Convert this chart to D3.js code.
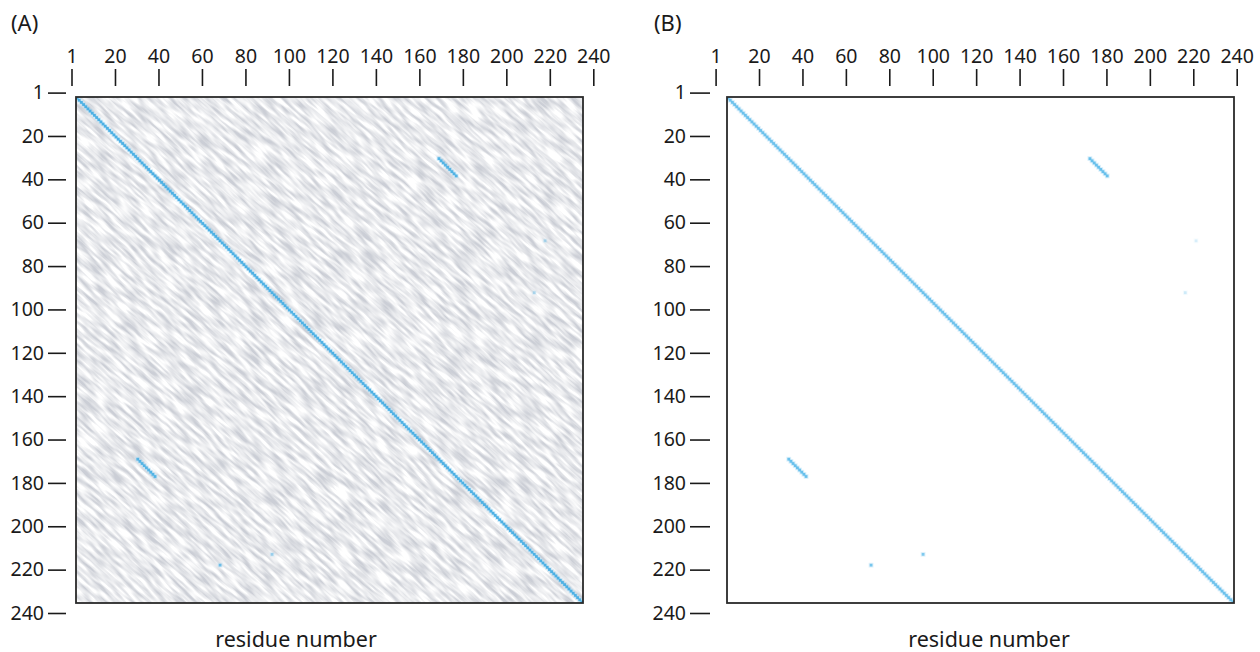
<!DOCTYPE html>
<html>
<head>
<meta charset="utf-8">
<script src="https://cdn.jsdelivr.net/npm/d3@7"></script>
<style>
  body { margin: 0; background: #fff; }
  svg { display: block; font-family: "Noto Sans", sans-serif; }
</style>
</head>
<body>
<svg id="fig" width="1260" height="652"></svg>
<script>
// tick labels used on both axes of both panels
const tickLabels = ['1', '20', '40', '60', '80', '100', '120', '140', '160', '180', '200', '220', '240'];
const seqLength = 234; // residues covered by each plot box

// matching runs: start residue (x), start residue (y), run length
const runX = [1, 168, 29, 67, 91, 217, 212];
const runY = [1, 29, 168, 217, 212, 67, 91];
const runLen = [234, 9, 9, 1, 1, 1, 1];
// how strong each run shows up in the unfiltered (A) and filtered (B) plot
const strengthA = [0.9, 0.85, 0.85, 0.7, 0.45, 0.35, 0.35];
const strengthB = [0.85, 0.9, 0.9, 0.8, 0.75, 0.2, 0.25];

const panels = [
    { label: '(A)', labelX: 11, axisX: [71.5, 593.3], box: [76, 583], yTick: [48, 66], strength: strengthA, noisy: true, titleX: 296, blue: '#40abe2' },
    { label: '(B)', labelX: 654, axisX: [715.6, 1236.7], box: [727, 1234], yTick: [690, 710], strength: strengthB, noisy: false, titleX: 989, blue: '#5dbbea' }
];
const axisY = [92.6, 613];
const boxY = [97, 603];

const svg = d3.select('#fig');
const defs = svg.append('defs');

function render(p, idx) {
    const g = svg.append('g');

    const xAxisScale = d3.scalePoint().domain(tickLabels).range(p.axisX);
    const yAxisScale = d3.scalePoint().domain(tickLabels).range(axisY);

    const residues = d3.range(1, seqLength + 1);
    const xCell = d3.scaleBand().domain(residues).range(p.box);
    const yCell = d3.scaleBand().domain(residues).range(boxY);

    const bw = p.box[1] - p.box[0];
    const bh = boxY[1] - boxY[0];

    defs.append('clipPath').attr('id', 'clip' + idx)
        .append('rect')
        .attr('x', p.box[0]).attr('y', boxY[0])
        .attr('width', bw).attr('height', bh);

    const plot = g.append('g').attr('clip-path', `url(#clip${idx})`);

    if (p.noisy) {
        // background texture of weak, unfiltered hits (short streaks along the diagonal)
        const cx = (p.box[0] + p.box[1]) / 2, cy = (boxY[0] + boxY[1]) / 2;
        const f = defs.append('filter').attr('id', 'streak' + idx)
            .attr('filterUnits', 'userSpaceOnUse')
            .attr('x', cx - 390).attr('y', cy - 390).attr('width', 780).attr('height', 780);
        f.append('feTurbulence')
            .attr('type', 'fractalNoise')
            .attr('baseFrequency', '0.045 0.28')
            .attr('numOctaves', 2)
            .attr('seed', 5);
        f.append('feColorMatrix')
            .attr('type', 'matrix')
            .attr('values', '0 0 0 0 0.60  0 0 0 0 0.62  0 0 0 0 0.67  2.4 0 0 0 -0.78');
        plot.append('g')
            .attr('transform', `rotate(42,${cx},${cy})`)
            .append('rect')
            .attr('x', cx - 380).attr('y', cy - 380)
            .attr('width', 760).attr('height', 760)
            .attr('fill', '#fff')
            .attr('filter', `url(#streak${idx})`);
    }

    // expand runs into cells
    const cells = [];
    runX.forEach((x0, k) => {
        for (let t = 0; t < runLen[k]; t++) {
            cells.push({ x: x0 + t, y: runY[k] + t, s: p.strength[k] });
        }
    });

    // soft halo
    plot.append('g').selectAll('rect').data(cells).enter().append('rect')
        .attr('x', d => xCell(d.x) - 1.3)
        .attr('y', d => yCell(d.y) - 1.3)
        .attr('width', xCell.bandwidth() + 2.6)
        .attr('height', yCell.bandwidth() + 2.6)
        .attr('fill', '#a5d9f4')
        .attr('opacity', d => 0.45 * d.s);
    plot.append('g').selectAll('rect').data(cells).enter().append('rect')
        .attr('x', d => xCell(d.x) - 0.3)
        .attr('y', d => yCell(d.y) - 0.3)
        .attr('width', xCell.bandwidth() + 0.6)
        .attr('height', yCell.bandwidth() + 0.6)
        .attr('fill', p.blue)
        .attr('opacity', d => d.s);

    // frame
    g.append('rect')
        .attr('x', p.box[0]).attr('y', boxY[0])
        .attr('width', bw).attr('height', bh)
        .attr('fill', 'none')
        .attr('stroke', '#2a2a2a')
        .attr('stroke-width', 1.8);

    // top axis
    const xAxis = g.append('g')
        .attr('transform', 'translate(0,86)')
        .call(d3.axisTop(xAxisScale).tickSize(17).tickPadding(6));
    // left axis
    const yAxis = g.append('g')
        .attr('transform', `translate(${p.yTick[1]},0)`)
        .call(d3.axisLeft(yAxisScale).tickSize(p.yTick[1] - p.yTick[0]).tickPadding(4));

    [xAxis, yAxis].forEach(a => {
        a.select('.domain').remove();
        a.selectAll('line').attr('stroke', '#1a1a1a').attr('stroke-width', 1.6);
        a.selectAll('text')
            .attr('fill', '#1a1a1a')
            .style('font-size', '19.5px')
            .style('font-family', '"Noto Sans", sans-serif');
    });

    // panel letter
    g.append('text')
        .attr('x', p.labelX).attr('y', 31)
        .attr('fill', '#1a1a1a')
        .style('font-size', '22px')
        .text(p.label);

    // axis title
    g.append('text')
        .attr('x', p.titleX).attr('y', 647)
        .attr('text-anchor', 'middle')
        .attr('fill', '#1a1a1a')
        .style('font-size', '21.5px')
        .text('residue number');
}

panels.forEach(render);
</script>
</body>
</html>
